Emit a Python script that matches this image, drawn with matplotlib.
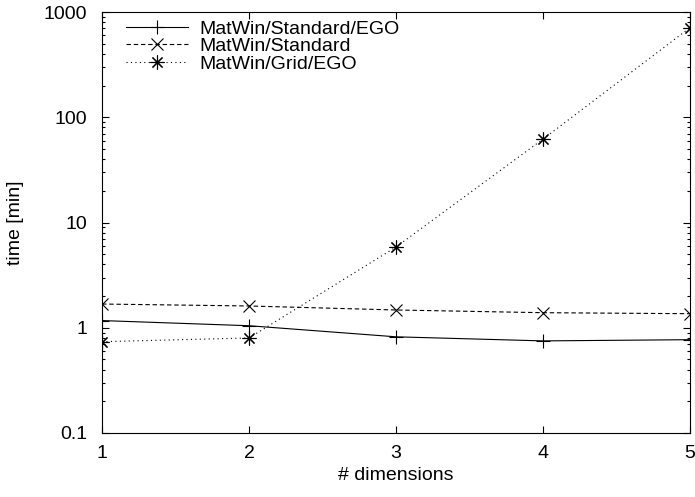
import numpy as np
import matplotlib.pyplot as plt
from matplotlib.ticker import FixedLocator, NullFormatter

plt.rcParams['font.family'] = ['Liberation Sans', 'DejaVu Sans']

# --- DATA ---
dims = [1, 2, 3, 4, 5]
std_ego = [1.17, 1.045, 0.82, 0.75, 0.77]
std = [1.68, 1.61, 1.475, 1.39, 1.36]
grid_ego = [0.737, 0.80, 5.85, 62, 710]
yticks = [0.1, 1, 10, 100, 1000]
ytick_labels = ["0.1", "1", "10", "100", "1000"]

fig = plt.figure(figsize=(6.95, 4.97), dpi=100)
ax = fig.add_axes([0.1468, 0.1288, 0.846, 0.847])

ax.plot(dims, std_ego, color="black", lw=0.8, ls="-", marker="+", ms=10, mew=0.8,
        label="MatWin/Standard/EGO")
ax.plot(dims, std, color="black", lw=0.8, ls=(0, (4, 2.5)), marker="x", ms=8, mew=0.8,
        label="MatWin/Standard")
ax.plot(dims, grid_ego, color="black", lw=0.8, ls=(0, (1, 3)), marker=(8, 2, 0), ms=10, mew=0.8,
        label="MatWin/Grid/EGO")

ax.set_yscale("log")
ax.set_xlim(1, 5)
ax.set_ylim(0.1, 1000)
ax.set_xticks(dims)
ax.set_yticks(yticks)
ax.set_yticklabels(ytick_labels)
minors = [m * 10.0 ** e for e in range(-1, 3) for m in range(2, 10)]
ax.yaxis.set_minor_locator(FixedLocator(minors))
ax.yaxis.set_minor_formatter(NullFormatter())
ax.tick_params(which="both", direction="in", top=True, right=True, labelsize=14)
ax.tick_params(axis="y", pad=10.5)
ax.tick_params(axis="x", pad=9)
ax.tick_params(which="major", length=5, width=0.8)
ax.tick_params(which="minor", length=2.5, width=0.8)
for s in ax.spines.values():
    s.set_linewidth(0.8)

ax.set_xlabel("# dimensions", fontsize=14, labelpad=3)
ax.set_ylabel("time [min]", fontsize=14, labelpad=14)

ax.legend(loc="upper left", frameon=False, fontsize=14, handlelength=3.2,
          handletextpad=0.56, labelspacing=0.0, borderaxespad=0.0, borderpad=0.0,
          bbox_to_anchor=(0.041, 0.981))

plt.savefig("out.png", dpi=100)
plt.close()
